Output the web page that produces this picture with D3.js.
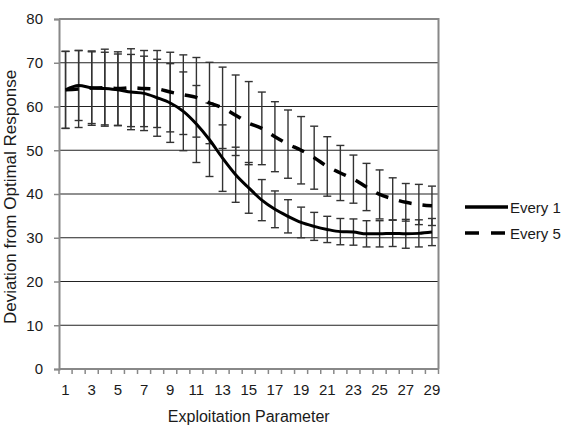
<!DOCTYPE html>
<html>
<head>
<meta charset="utf-8">
<script src="https://cdn.jsdelivr.net/npm/d3@7"></script>
<style>
  body { margin: 0; background: #fff; }
  text { font-family: "Liberation Sans", Arial, sans-serif; fill: #1a1a1a; }
</style>
</head>
<body>
<div id="chart"></div>
<script>

// data
var params = d3.range(1, 30);
var tickLabels = params.filter(d => d % 2 === 1);

var every1 = [63.8, 64.8, 64.3, 64.1, 63.8, 63.3, 63.0, 62.0, 60.8, 58.9,
  56.0, 52.4, 48.2, 44.4, 41.4, 38.6, 36.5, 34.9, 33.5, 32.6,
  31.9, 31.4, 31.3, 30.9, 30.9, 31.0, 30.9, 31.0, 31.3];
var every1Err = [8.8, 8.0, 8.2, 8.3, 8.2, 8.6, 8.5, 8.8, 9.0, 9.0,
  8.8, 8.4, 7.6, 6.3, 5.8, 4.7, 4.2, 3.8, 3.5, 3.2,
  3.0, 3.0, 3.0, 3.0, 3.0, 3.0, 3.3, 3.1, 3.1];

var every5 = [63.8, 64.0, 64.2, 64.3, 64.1, 64.3, 64.1, 64.0, 63.3, 62.7,
  62.1, 60.8, 59.7, 58.0, 56.2, 55.0, 53.1, 51.4, 50.0, 48.3,
  46.3, 44.8, 43.4, 41.6, 39.9, 38.9, 38.1, 37.6, 37.3];
var every5Err = [8.8, 8.8, 8.5, 8.8, 8.4, 8.9, 8.7, 8.8, 9.1, 9.1,
  9.1, 9.3, 9.3, 9.2, 9.5, 8.3, 8.0, 7.8, 7.7, 7.2,
  6.8, 6.3, 5.5, 5.4, 5.6, 4.8, 4.3, 4.6, 4.5];

var seriesNames = ["Every 1", "Every 5"];

var svgWidth = 567;
var svgHeight = 426;

var margin = { top: 19, right: 128.5, bottom: 57, left: 59 };
var width = svgWidth - margin.left - margin.right;
var height = svgHeight - margin.top - margin.bottom;

var svg = d3.select("#chart")
  .append("svg")
  .attr("width", svgWidth)
  .attr("height", svgHeight);

var chartGroup = svg.append("g")
  .attr("transform", `translate(${margin.left}, ${margin.top})`);

// scales
var xBand = d3.scaleBand()
  .domain(params)
  .range([0, width]);

var yLinearScale = d3.scaleLinear()
  .domain([0, 80])
  .range([height, 0]);

var xPos = d => xBand(d) + xBand.bandwidth() / 2;

// gridlines
chartGroup.append("g")
  .selectAll("line")
  .data(d3.range(10, 80, 10))
  .enter()
  .append("line")
  .attr("x1", 0)
  .attr("x2", width)
  .attr("y1", d => yLinearScale(d))
  .attr("y2", d => yLinearScale(d))
  .style("stroke", "#222")
  .style("stroke-width", 1.2);

// plot border (top + right)
chartGroup.append("path")
  .attr("d", `M0,0H${width}V${height}`)
  .style("fill", "none")
  .style("stroke", "#888")
  .style("stroke-width", 2);

// y axis
var leftAxis = d3.axisLeft(yLinearScale)
  .tickValues(d3.range(0, 90, 10))
  .tickSize(5)
  .tickPadding(11);

var yAxis = chartGroup.append("g")
  .call(leftAxis);
yAxis.select(".domain").style("stroke", "#888").style("stroke-width", 2);
yAxis.selectAll(".tick line").style("stroke", "#888").style("stroke-width", 1.5);
yAxis.selectAll("text")
  .attr("font-size", 15)
  .style("font-family", "Liberation Sans, Arial, sans-serif")
  .style("fill", "#1a1a1a");

// x axis: ticks between categories, labels on odd ones
var xAxis = chartGroup.append("g")
  .attr("transform", `translate(0, ${height})`);

xAxis.append("line")
  .attr("x1", 0)
  .attr("x2", width)
  .style("stroke", "#888")
  .style("stroke-width", 2);

xAxis.selectAll(".xtick")
  .data(params.concat([30]))
  .enter()
  .append("line")
  .attr("class", "xtick")
  .attr("x1", d => d === 30 ? width : xBand(d))
  .attr("x2", d => d === 30 ? width : xBand(d))
  .attr("y1", 0)
  .attr("y2", 5)
  .style("stroke", "#888")
  .style("stroke-width", 1.5);

xAxis.selectAll(".xlabel")
  .data(tickLabels)
  .enter()
  .append("text")
  .attr("class", "xlabel")
  .attr("x", d => xPos(d))
  .attr("y", 26)
  .attr("text-anchor", "middle")
  .attr("font-size", 15)
  .text(d => d);

// error bars
function drawErrors(values, errs) {
  var g = chartGroup.append("g");
  var capW = 4;
  params.forEach(function(p, i) {
    var yTop = yLinearScale(values[i] + errs[i]);
    var yBot = yLinearScale(values[i] - errs[i]);
    var cx = xPos(p);
    g.append("line")
      .attr("x1", cx).attr("x2", cx)
      .attr("y1", yTop).attr("y2", yBot);
    g.append("line")
      .attr("x1", cx - capW).attr("x2", cx + capW)
      .attr("y1", yTop).attr("y2", yTop);
    g.append("line")
      .attr("x1", cx - capW).attr("x2", cx + capW)
      .attr("y1", yBot).attr("y2", yBot);
  });
  g.selectAll("line")
    .style("stroke", "#333")
    .style("stroke-width", 1.4);
}

drawErrors(every1, every1Err);
drawErrors(every5, every5Err);

// lines
var line = d3.line()
  .x((d, i) => xPos(params[i]))
  .y(d => yLinearScale(d))
  .curve(d3.curveMonotoneX);

chartGroup.append("path")
  .datum(every1)
  .attr("d", line)
  .style("fill", "none")
  .style("stroke", "#000")
  .style("stroke-width", 3);

chartGroup.append("path")
  .datum(every5)
  .attr("d", line)
  .style("fill", "none")
  .style("stroke", "#000")
  .style("stroke-width", 3.5)
  .style("stroke-dasharray", "13,11");

// axis titles
svg.append("text")
  .attr("transform", `translate(15.5, 197) rotate(-90)`)
  .attr("text-anchor", "middle")
  .attr("font-size", 17)
  .text("Deviation from Optimal Response");

svg.append("text")
  .attr("x", margin.left + width / 2)
  .attr("y", 421.5)
  .attr("text-anchor", "middle")
  .attr("font-size", 16)
  .text("Exploitation Parameter");

// legend
var legend = svg.append("g")
  .attr("transform", "translate(465, 207)");

seriesNames.forEach(function(name, i) {
  var row = legend.append("g")
    .attr("transform", `translate(0, ${i * 26})`);
  row.append("line")
    .attr("x1", 0)
    .attr("x2", 43)
    .style("stroke", "#000")
    .style("stroke-width", 3.5)
    .style("stroke-dasharray", i === 1 ? "14,12" : null);
  row.append("text")
    .attr("x", 45)
    .attr("y", 6)
    .attr("font-size", 15)
    .text(name);
});

</script>
</body>
</html>
